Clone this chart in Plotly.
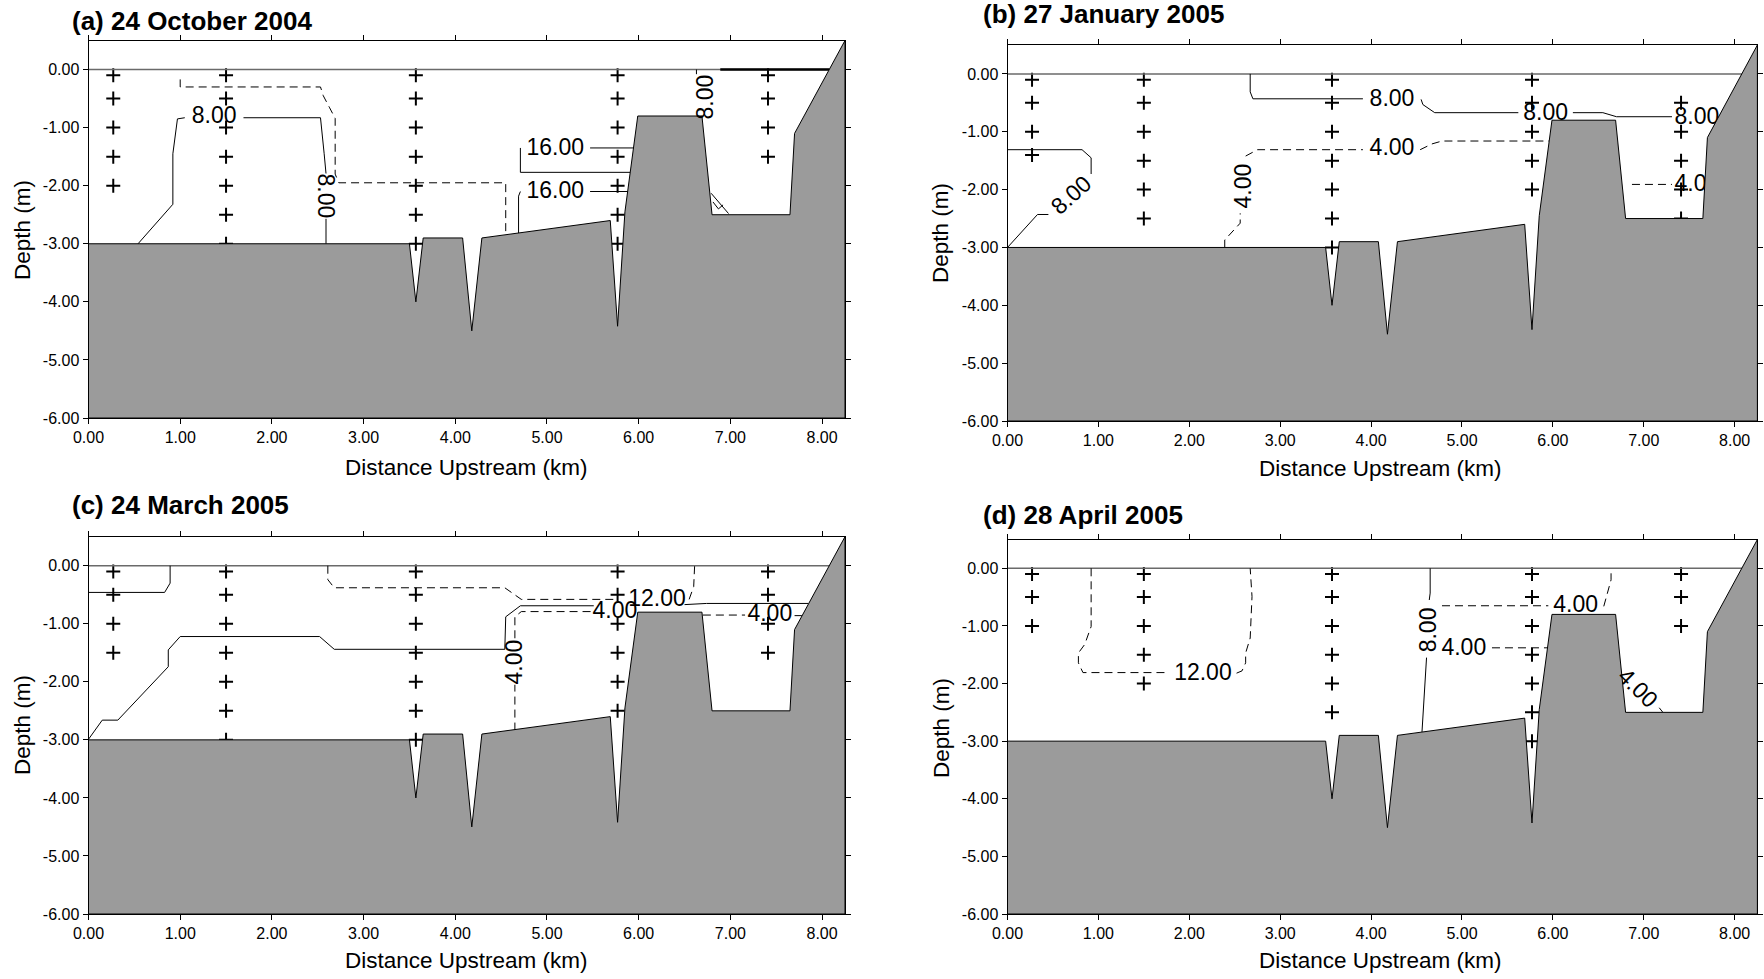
import plotly.graph_objects as go

W, H = 1764, 979
FONT = "Arial, 'Liberation Sans', sans-serif"

# ---------------- shared data ----------------
x_tick_vals = [0, 1, 2, 3, 4, 5, 6, 7, 8]
x_tick_text = ["0.00", "1.00", "2.00", "3.00", "4.00", "5.00", "6.00", "7.00", "8.00"]
y_tick_vals = [-6, -5, -4, -3, -2, -1, 0]
y_tick_text = ["-6.00", "-5.00", "-4.00", "-3.00", "-2.00", "-1.00", "0.00"]
x_range = [0.0, 8.25]
y_range = [-6.0, 0.5]

# river bed profile (distance km, depth m)
bathy_x = [0.0, 3.50, 3.57, 3.65, 4.08, 4.18, 4.29, 5.69, 5.77, 5.85, 5.99, 6.69, 6.80, 7.65, 7.70, 8.25]
bathy_y = [-3.0, -3.0, -4.0, -2.9, -2.9, -4.5, -2.9, -2.6, -4.42, -2.45, -0.8, -0.8, -2.5, -2.5, -1.1, 0.5]

station_x = [0.27, 1.50, 3.57, 5.77, 7.41]

panel_titles = ["(a) 24 October 2004", "(b) 27 January 2005", "(c) 24 March 2005", "(d) 28 April 2005"]
x_title = "Distance Upstream (km)"
y_title = "Depth (m)"

# ---------------- sampling depths ----------------
a_station_depths = [[-0.1, -0.5, -1, -1.5, -2],
                    [-0.1, -0.5, -1, -1.5, -2, -2.5, -3],
                    [-0.1, -0.5, -1, -1.5, -2, -2.5, -3],
                    [-0.1, -0.5, -1, -1.5, -2, -2.5, -3],
                    [-0.1, -0.5, -1, -1.5]]
b_station_depths = [[-0.1, -0.5, -1, -1.4],
                    [-0.1, -0.5, -1, -1.5, -2, -2.5],
                    [-0.1, -0.5, -1, -1.5, -2, -2.5, -3],
                    [-0.1, -0.5, -1, -1.5, -2],
                    [-0.5, -1, -1.5, -2, -2.5]]
c_station_depths = [[-0.1, -0.5, -1, -1.5],
                    [-0.1, -0.5, -1, -1.5, -2, -2.5, -3],
                    [-0.1, -0.5, -1, -1.5, -2, -2.5, -3],
                    [-0.1, -0.5, -1, -1.5, -2, -2.5],
                    [-0.1, -0.5, -1, -1.5]]
d_station_depths = [[-0.1, -0.5, -1],
                    [-0.1, -0.5, -1, -1.5, -2],
                    [-0.1, -0.5, -1, -1.5, -2, -2.5],
                    [-0.1, -0.5, -1, -1.5, -2, -2.5, -3],
                    [-0.1, -0.5, -1]]

# ---------------- contour lines (a) ----------------
a_solid8_left_x = [0.54, 0.92, 0.92, 0.97, 1.05, None, 1.69, 2.53, 2.57, 2.59, None, 2.59, 2.59]
a_solid8_left_y = [-3.0, -2.32, -1.45, -0.85, -0.83, None, -0.83, -0.83, -1.45, -1.79, None, -2.57, -3.0]
a_dash8_x = [1.0, 1.0, 2.53, 2.56, 2.63, 2.69, 2.69, 2.73, 4.55, 4.55]
a_dash8_y = [-0.17, -0.30, -0.30, -0.45, -0.66, -0.84, -1.80, -1.95, -1.95, -2.84]
a_solid16_up_x = [5.95, 5.47, None, 4.71, 4.71, 5.91]
a_solid16_up_y = [-1.35, -1.35, None, -1.35, -1.77, -1.77]
a_solid16_lo_x = [5.89, 5.47, None, 4.71, 4.69, 4.69]
a_solid16_lo_y = [-2.10, -2.10, None, -2.10, -2.18, -2.82]
a_solid8_right_x = [6.63, 6.63, None, 6.79, 6.98, None, 6.81, 6.87, 6.92]
a_solid8_right_y = [0.0, -0.08, None, -2.13, -2.48, None, -2.28, -2.40, -2.33]
a_surface_bold_x = [6.89, 8.08]
a_surface_bold_y = [0.0, 0.0]
a_label_text = ["8.00", "8.00", "16.00", "16.00", "8.00"]
a_label_x = [1.37, 2.59, 5.09, 5.09, 6.72]
a_label_y = [-0.83, -2.17, -1.37, -2.11, -0.47]
a_label_angle = [0, 90, 0, 0, -90]

# ---------------- contour lines (b) ----------------
b_solid8_left_x = [0.0, 0.82, 0.92, 0.92, None, 0.45, 0.33, 0.0]
b_solid8_left_y = [-1.31, -1.31, -1.45, -1.73, None, -2.43, -2.43, -3.0]
b_dash4_left_x = [2.39, 2.39, 2.56, 2.56, None, 2.62, 2.75, 3.91, None, 4.54, 4.67, 4.78, 5.96]
b_dash4_left_y = [-3.0, -2.87, -2.58, -2.41, None, -1.42, -1.31, -1.31, None, -1.31, -1.21, -1.16, -1.16]
b_solid8_top_x = [2.67, 2.67, 2.70, 3.91, None, 4.55, 4.57, 4.70, 5.62, None, 6.22, 6.55, 6.70, 7.31]
b_solid8_top_y = [0.0, -0.31, -0.43, -0.43, None, -0.44, -0.53, -0.67, -0.67, None, -0.67, -0.67, -0.74, -0.74]
b_dash4_right_x = [6.87, 7.31]
b_dash4_right_y = [-1.91, -1.91]
b_label_text = ["8.00", "4.00", "4.00", "8.00", "8.00", "8.00", "4.00"]
b_label_x = [0.70, 2.59, 4.23, 4.23, 5.92, 7.585, 7.585]
b_label_y = [-2.10, -1.93, -1.31, -0.45, -0.69, -0.77, -1.93]
b_label_angle = [-42, -90, 0, 0, 0, 0, 0]

# ---------------- contour lines (c) ----------------
c_solid_top_x = [0.0, 0.83, 0.89, 0.89]
c_solid_top_y = [-0.46, -0.46, -0.30, 0.0]
c_solid_long_x = [0.0, 0.15, 0.32, 0.87, 0.87, 1.0, 2.52, 2.68, 4.54, 4.55, 4.71, 5.51, None, 6.50, 6.74, 7.85]
c_solid_long_y = [-2.99, -2.66, -2.66, -1.74, -1.45, -1.22, -1.22, -1.44, -1.44, -0.88, -0.69, -0.69, None, -0.67, -0.65, -0.65]
c_dash12_x = [2.61, 2.61, 2.68, 4.54, 4.72, 5.76, None, 6.55, 6.60, 6.61]
c_dash12_y = [0.0, -0.24, -0.38, -0.38, -0.58, -0.58, None, -0.58, -0.36, 0.0]
c_dash4_x = [4.65, 4.65, None, 4.65, 4.65, 4.72, 5.51, None, 6.70, 7.16, None, 7.70, 7.78]
c_dash4_y = [-2.84, -2.05, None, -1.25, -0.88, -0.79, -0.79, None, -0.85, -0.85, None, -0.86, -0.86]
c_label_text = ["4.00", "4.00", "12.00", "4.00"]
c_label_x = [4.64, 5.74, 6.20, 7.43]
c_label_y = [-1.65, -0.81, -0.59, -0.86]
c_label_angle = [-90, 0, 0, 0]

# ---------------- contour lines (d) ----------------
d_dash12_x = [0.92, 0.92, 0.85, 0.78, 0.78, 0.83, 1.75, None, 2.52, 2.58, 2.62, 2.62, 2.67, 2.69, 2.67]
d_dash12_y = [0.0, -1.01, -1.32, -1.47, -1.64, -1.81, -1.81, None, -1.82, -1.78, -1.64, -1.47, -1.21, -0.49, 0.0]
d_solid8_x = [4.65, 4.65, 4.64, None, 4.61, 4.58, 4.56]
d_solid8_y = [0.0, -0.43, -0.55, None, -1.55, -2.33, -2.84]
d_dash4_top_x = [4.78, 5.95, None, 6.56, 6.64, 6.64]
d_dash4_top_y = [-0.65, -0.65, None, -0.66, -0.20, 0.0]
d_dash4_mid_x = [5.33, 5.95]
d_dash4_mid_y = [-1.38, -1.38]
d_dash4_diag_x = [7.17, 7.21]
d_dash4_diag_y = [-2.42, -2.50]
d_label_text = ["12.00", "8.00", "4.00", "4.00", "4.00"]
d_label_x = [2.15, 4.63, 6.25, 5.02, 6.94]
d_label_y = [-1.84, -1.07, -0.66, -1.40, -2.07]
d_label_angle = [0, -90, 0, 0, 45]

SOLID, DASH = "solid", "8px,5px"
LABEL_SIZE = 23

panels = [
    dict(dom=(88.5, 845.0, 40.5, 418.0), title_pos=(70, 21), xt_pos=(466, 467), yt_pos=(22, 230),
         depths=a_station_depths,
         lines=[(a_solid8_left_x, a_solid8_left_y, SOLID, 1), (a_dash8_x, a_dash8_y, DASH, 1),
                (a_solid16_up_x, a_solid16_up_y, SOLID, 1), (a_solid16_lo_x, a_solid16_lo_y, SOLID, 1),
                (a_solid8_right_x, a_solid8_right_y, SOLID, 1), (a_surface_bold_x, a_surface_bold_y, SOLID, 2.5)],
         labels=(a_label_text, a_label_x, a_label_y, a_label_angle)),
    dict(dom=(1007.5, 1757.4, 45.0, 421.0), title_pos=(981, 14), xt_pos=(1380, 468), yt_pos=(941, 233),
         depths=b_station_depths,
         lines=[(b_solid8_left_x, b_solid8_left_y, SOLID, 1), (b_dash4_left_x, b_dash4_left_y, DASH, 1),
                (b_solid8_top_x, b_solid8_top_y, SOLID, 1), (b_dash4_right_x, b_dash4_right_y, DASH, 1)],
         labels=(b_label_text, b_label_x, b_label_y, b_label_angle)),
    dict(dom=(88.5, 845.0, 536.7, 914.0), title_pos=(70, 505), xt_pos=(467, 960), yt_pos=(22, 725),
         depths=c_station_depths,
         lines=[(c_solid_top_x, c_solid_top_y, SOLID, 1), (c_solid_long_x, c_solid_long_y, SOLID, 1),
                (c_dash12_x, c_dash12_y, DASH, 1), (c_dash4_x, c_dash4_y, DASH, 1)],
         labels=(c_label_text, c_label_x, c_label_y, c_label_angle)),
    dict(dom=(1007.5, 1757.4, 539.5, 914.0), title_pos=(981, 515), xt_pos=(1380, 960), yt_pos=(941, 728),
         depths=d_station_depths,
         lines=[(d_dash12_x, d_dash12_y, DASH, 1), (d_solid8_x, d_solid8_y, SOLID, 1),
                (d_dash4_top_x, d_dash4_top_y, DASH, 1), (d_dash4_mid_x, d_dash4_mid_y, DASH, 1),
                (d_dash4_diag_x, d_dash4_diag_y, DASH, 1)],
         labels=(d_label_text, d_label_x, d_label_y, d_label_angle)),
]

fig = go.Figure()
annotations = []
layout = {}

for i, p in enumerate(panels):
    n = i + 1
    xa = "x" if n == 1 else f"x{n}"
    ya = "y" if n == 1 else f"y{n}"
    l, r, t, b = p["dom"]

    # station markers
    sx, sy = [], []
    for xs, ds in zip(station_x, p["depths"]):
        for d in ds:
            sx.append(xs)
            sy.append(d)
    fig.add_trace(go.Scatter(x=sx, y=sy, mode="markers", xaxis=xa, yaxis=ya,
                             marker=dict(symbol="cross-thin", size=10, color="black",
                                         line=dict(color="black", width=2)),
                             hoverinfo="skip", showlegend=False))
    # water surface
    fig.add_trace(go.Scatter(x=[x_range[0], x_range[1]], y=[0, 0], mode="lines", xaxis=xa, yaxis=ya,
                             line=dict(color="#6a6a6a", width=1.5), hoverinfo="skip", showlegend=False))
    # contour lines
    for lx, ly, dash, w in p["lines"]:
        fig.add_trace(go.Scatter(x=lx, y=ly, mode="lines", xaxis=xa, yaxis=ya, connectgaps=False,
                                 line=dict(color="black", width=w, dash=dash),
                                 hoverinfo="skip", showlegend=False))
    # horizontal contour labels (under the bed fill)
    txt, lxs, lys, angs = p["labels"]
    ht = [(s, x, y) for s, x, y, a in zip(txt, lxs, lys, angs) if a == 0]
    fig.add_trace(go.Scatter(x=[h[1] for h in ht], y=[h[2] for h in ht], text=[h[0] for h in ht],
                             mode="text", xaxis=xa, yaxis=ya, textposition="middle center",
                             textfont=dict(family=FONT, size=LABEL_SIZE, color="black"),
                             hoverinfo="skip", showlegend=False))
    # river bed
    fx = bathy_x + [x_range[1], x_range[0], bathy_x[0]]
    fy = bathy_y + [y_range[0], y_range[0], bathy_y[0]]
    fig.add_trace(go.Scatter(x=fx, y=fy, mode="lines", fill="toself", fillcolor="#9b9b9b",
                             xaxis=xa, yaxis=ya, line=dict(color="black", width=1),
                             hoverinfo="skip", showlegend=False))
    # rotated labels
    for s, x, y, a in zip(txt, lxs, lys, angs):
        if a != 0:
            annotations.append(dict(x=x, y=y, xref=xa, yref=ya, text=s, showarrow=False,
                                    textangle=a, xanchor="center", yanchor="middle",
                                    font=dict(family=FONT, size=LABEL_SIZE, color="black")))

    axis_common = dict(showgrid=False, zeroline=False, showline=True, linecolor="black", linewidth=1,
                       mirror="ticks", ticks="outside", ticklen=5, tickcolor="black", automargin=False,
                       tickfont=dict(family=FONT, size=16, color="black"))
    layout["xaxis" if n == 1 else f"xaxis{n}"] = dict(
        axis_common, domain=[l / W, r / W], range=x_range, anchor=ya,
        tickvals=x_tick_vals, ticktext=x_tick_text)
    layout["yaxis" if n == 1 else f"yaxis{n}"] = dict(
        axis_common, domain=[1 - b / H, 1 - t / H], range=y_range, anchor=xa,
        tickvals=y_tick_vals, ticktext=y_tick_text)

    tx, ty = p["title_pos"]
    annotations.append(dict(x=tx / W, y=1 - ty / H, xref="paper", yref="paper", text=f"<b>{panel_titles[i]}</b>",
                            showarrow=False, xanchor="left", yanchor="middle",
                            font=dict(family=FONT, size=26, color="black")))
    xx, xy = p["xt_pos"]
    annotations.append(dict(x=xx / W, y=1 - xy / H, xref="paper", yref="paper", text=x_title,
                            showarrow=False, xanchor="center", yanchor="middle",
                            font=dict(family=FONT, size=22.5, color="black")))
    yx, yy = p["yt_pos"]
    annotations.append(dict(x=yx / W, y=1 - yy / H, xref="paper", yref="paper", text=y_title,
                            showarrow=False, xanchor="center", yanchor="middle", textangle=-90,
                            font=dict(family=FONT, size=22.5, color="black")))

fig.update_layout(width=W, height=H, autosize=False, margin=dict(l=0, r=0, t=0, b=0, autoexpand=False),
                  paper_bgcolor="white", plot_bgcolor="white", showlegend=False,
                  annotations=annotations, **layout)

fig.write_html("out.html")
